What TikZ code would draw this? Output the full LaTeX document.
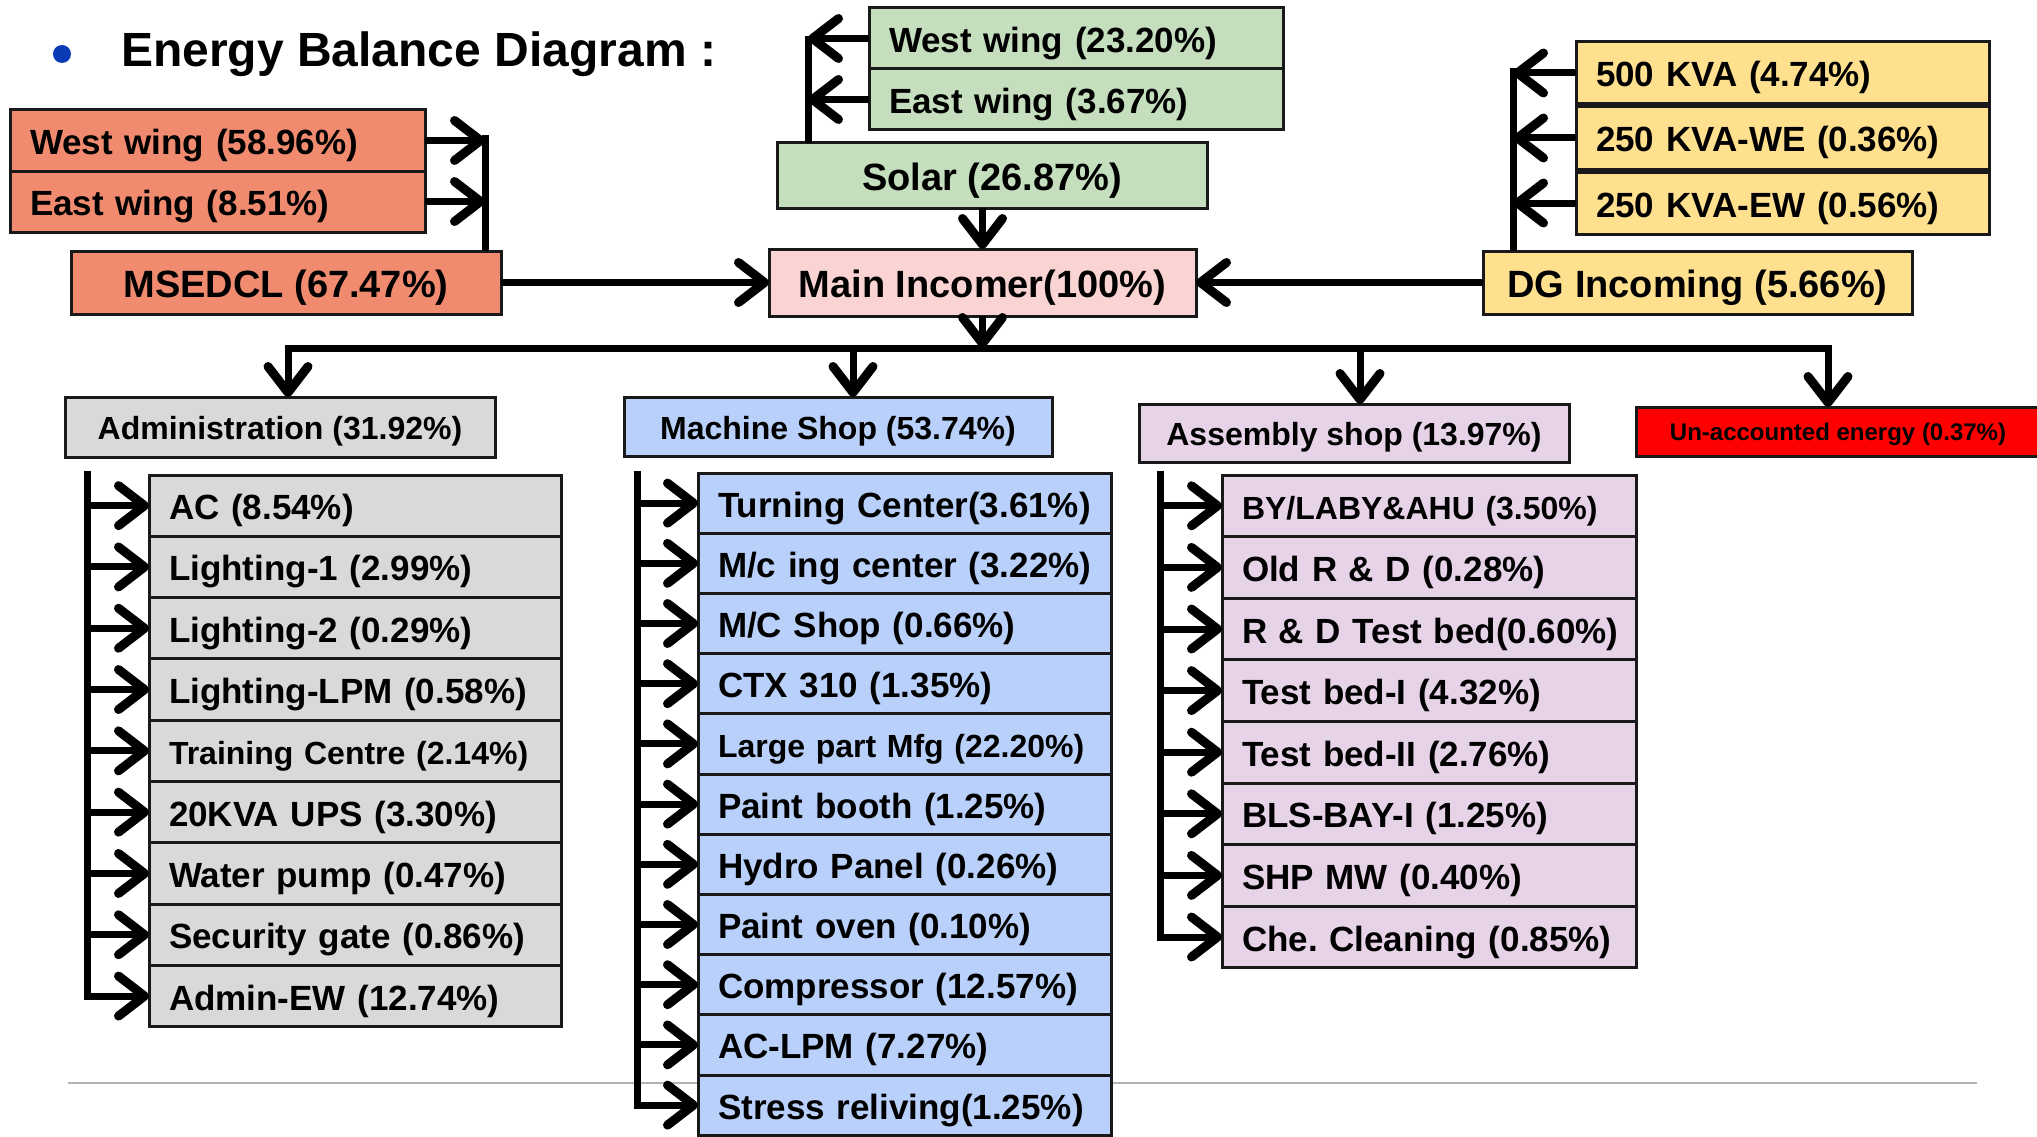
\documentclass[tikz,border=0pt]{standalone}
\usepackage{fontspec}
\setmainfont{Liberation Sans}
\usetikzlibrary{positioning,arrows.meta}
\frenchspacing
\definecolor{msred}{RGB}{240,139,112}
\definecolor{solgreen}{RGB}{196,222,190}
\definecolor{mainpink}{RGB}{250,211,211}
\definecolor{dgyellow}{RGB}{255,224,143}
\definecolor{admgray}{RGB}{217,217,217}
\definecolor{msblue}{RGB}{185,208,250}
\definecolor{aslav}{RGB}{231,211,232}
\definecolor{bulletblue}{RGB}{10,60,180}
\newcommand{\ebtitle}{\fontsize{48}{56}\selectfont\bfseries}
\newcommand{\ebmain}{\fontsize{38}{44}\selectfont\bfseries}
\newcommand{\ebsub}{\fontsize{35}{40}\selectfont\bfseries}
\newcommand{\ebsubsm}{\fontsize{32}{38}\selectfont\bfseries}
\newcommand{\ebhead}{\fontsize{32}{38}\selectfont\bfseries}
\newcommand{\ebsmall}{\fontsize{24}{28}\selectfont\bfseries}
\tikzstyle{ebox}=[rectangle, draw=black!90, line width=3pt, outer sep=0pt, inner sep=0pt, text=black]
\tikzstyle{mbox}=[ebox, font=\ebmain, text centered, text height=32pt, text depth=2pt]
\tikzstyle{hbox}=[ebox, font=\ebhead, text centered, text height=27pt, text depth=2pt]
\tikzstyle{tbox}=[ebox, font=\ebsub, align=left, inner xsep=20pt, text width=374pt, minimum height=61pt,
                  text height=30pt, text depth=2pt,
                  execute at begin node=\hbox\bgroup, execute at end node=\egroup]
\tikzstyle{sbox}=[tbox, text width=372pt, minimum height=61.3pt]
\tikzstyle{pline}=[-, line width=7pt]
\tikzstyle{parrow}=[pline, -{Straight Barb[length=26pt,width=40pt,line width=9pt,round]}]
\begin{document}
\begin{tikzpicture}[x=1pt, y=1pt]
\useasboundingbox (0,0) rectangle (2037,-1137);
\draw[gray!60, line width=1.5pt] (68,-1083) -- (1977,-1083);

% title
\node (BULLET) [circle, fill=bulletblue, minimum size=18pt, inner sep=0pt] at (62,-54) {};
\node (TITLE) [anchor=base west, font=\ebtitle, inner sep=0pt] at (121,-67) {Energy Balance Diagram :};

% MSEDCL side
\node (WWR) [tbox, fill=msred, text width=375pt, anchor=north west] at (10,-110) {West wing (58.96\%)};
\node (EWR) [tbox, fill=msred, text width=375pt, below=0pt of WWR] {East wing (8.51\%)};
\node (MSEDCL) [mbox, fill=msred, minimum width=430pt, minimum height=63pt] at (286,-282.5) {MSEDCL (67.47\%)};
\coordinate (REDBUS) at (485,-135);
 \draw[pline] (REDBUS) -- (REDBUS |- MSEDCL.north);
 \draw[parrow] (WWR.east) -- (WWR.east -| REDBUS);
 \draw[parrow] (EWR.east) -- (EWR.east -| REDBUS);

% solar side
\node (WWG) [tbox, fill=solgreen, anchor=north west] at (869,-8) {West wing (23.20\%)};
\node (EWG) [tbox, fill=solgreen, below=0pt of WWG] {East wing (3.67\%)};
\node (SOLAR) [mbox, fill=solgreen, minimum width=430pt, minimum height=65pt] at (992,-175.5) {Solar (26.87\%)};
\coordinate (GRNBUS) at (808,-36);
 \draw[pline] (GRNBUS) -- (GRNBUS |- SOLAR.north);
 \draw[parrow] (WWG.west) -- (WWG.west -| GRNBUS);
 \draw[parrow] (EWG.west) -- (EWG.west -| GRNBUS);

% main incomer
\node (MAIN) [mbox, fill=mainpink, minimum width=427pt, minimum height=67pt] at (982.5,-282.5) {Main Incomer(100\%)};
 \draw[parrow] (MSEDCL.east) -- (MAIN.west);
 \draw[parrow] (SOLAR.south -| MAIN.north) -- (MAIN.north);

% DG side
\node (KVA500) [tbox, fill=dgyellow, text width=373pt, minimum height=62pt, anchor=north west] at (1576,-42) {500 KVA (4.74\%)};
\node (KVAWE) [tbox, fill=dgyellow, text width=373pt, minimum height=62pt, below=3pt of KVA500] {250 KVA-WE (0.36\%)};
\node (KVAEW) [tbox, fill=dgyellow, text width=373pt, minimum height=62pt, below=3pt of KVAWE] {250 KVA-EW (0.56\%)};
\node (DG) [mbox, fill=dgyellow, minimum width=429pt, minimum height=63pt] at (1697.5,-282.5) {DG Incoming (5.66\%)};
\coordinate (DGBUS) at (1513,-68);
 \draw[pline] (DGBUS) -- (DGBUS |- DG.north);
 \draw[parrow] (KVA500.west) -- (KVA500.west -| DGBUS);
 \draw[parrow] (KVAWE.west) -- (KVAWE.west -| DGBUS);
 \draw[parrow] (KVAEW.west) -- (KVAEW.west -| DGBUS);
 \draw[parrow] (DG.west) -- (MAIN.east);

% loads
\node (ADM) [hbox, fill=admgray, minimum width=430pt, minimum height=60pt] at (280,-427) {Administration (31.92\%)};
\node (MACH) [hbox, fill=msblue, minimum width=428pt, minimum height=59pt] at (838,-426.5) {Machine Shop (53.74\%)};
\node (ASM) [hbox, fill=aslav, minimum width=430pt, minimum height=58pt] at (1354,-433) {Assembly shop (13.97\%)};
\node (UNACC) [ebox, font=\ebsmall, fill=red, minimum width=404pt, minimum height=49pt,
               text height=20pt, text depth=1.5pt] at (1838,-431.5) {Un-accounted energy (0.37\%)};
\coordinate (DBUS) at ([yshift=-32pt]MAIN.south);
 \draw[parrow] (MAIN.south) -- (DBUS);
 \draw[parrow] (DBUS) -| ([xshift=8pt]ADM.north);
 \draw[parrow] (DBUS) -| ([xshift=-10pt]UNACC.north);
 \draw[parrow] ([xshift=15pt]MACH.north |- DBUS) -- ([xshift=15pt]MACH.north);
 \draw[parrow] ([xshift=6pt]ASM.north |- DBUS) -- ([xshift=6pt]ASM.north);

% administration
\node (ADMAC) [sbox, fill=admgray, anchor=north west] at (149,-475) {AC (8.54\%)};
\node (ADMLONE) [sbox, fill=admgray, below=0pt of ADMAC] {Lighting-1 (2.99\%)};
\node (ADMLTWO) [sbox, fill=admgray, below=0pt of ADMLONE] {Lighting-2 (0.29\%)};
\node (ADMLPM) [sbox, fill=admgray, below=0pt of ADMLTWO] {Lighting-LPM (0.58\%)};
\node (ADMTRN) [sbox, fill=admgray, font=\ebsubsm, below=0pt of ADMLPM] {Training Centre (2.14\%)};
\node (ADMUPS) [sbox, fill=admgray, below=0pt of ADMTRN] {20KVA UPS (3.30\%)};
\node (ADMWP) [sbox, fill=admgray, below=0pt of ADMUPS] {Water pump (0.47\%)};
\node (ADMSG) [sbox, fill=admgray, below=0pt of ADMWP] {Security gate (0.86\%)};
\node (ADMEW) [sbox, fill=admgray, below=0pt of ADMSG] {Admin-EW (12.74\%)};
\coordinate (ADMBUS) at (87,-471);
 \draw[parrow] (ADMBUS) |- (ADMEW.west);
 \draw[parrow] (ADMAC.west -| ADMBUS) -- (ADMAC.west);
 \draw[parrow] (ADMLONE.west -| ADMBUS) -- (ADMLONE.west);
 \draw[parrow] (ADMLTWO.west -| ADMBUS) -- (ADMLTWO.west);
 \draw[parrow] (ADMLPM.west -| ADMBUS) -- (ADMLPM.west);
 \draw[parrow] (ADMTRN.west -| ADMBUS) -- (ADMTRN.west);
 \draw[parrow] (ADMUPS.west -| ADMBUS) -- (ADMUPS.west);
 \draw[parrow] (ADMWP.west -| ADMBUS) -- (ADMWP.west);
 \draw[parrow] (ADMSG.west -| ADMBUS) -- (ADMSG.west);

% machine shop
\node (MSTC) [sbox, fill=msblue, text width=373pt, minimum height=60.2pt, anchor=north west] at (698,-473) {Turning Center(3.61\%)};
\node (MSMC) [sbox, fill=msblue, text width=373pt, minimum height=60.2pt, below=0pt of MSTC] {M/c ing center (3.22\%)};
\node (MSSHOP) [sbox, fill=msblue, text width=373pt, minimum height=60.2pt, below=0pt of MSMC] {M/C Shop (0.66\%)};
\node (MSCTX) [sbox, fill=msblue, text width=373pt, minimum height=60.2pt, below=0pt of MSSHOP] {CTX 310 (1.35\%)};
\node (MSLPM) [sbox, fill=msblue, text width=373pt, minimum height=60.2pt, font=\ebsubsm, below=0pt of MSCTX] {Large part Mfg (22.20\%)};
\node (MSPB) [sbox, fill=msblue, text width=373pt, minimum height=60.2pt, below=0pt of MSLPM] {Paint booth (1.25\%)};
\node (MSHP) [sbox, fill=msblue, text width=373pt, minimum height=60.2pt, below=0pt of MSPB] {Hydro Panel (0.26\%)};
\node (MSPO) [sbox, fill=msblue, text width=373pt, minimum height=60.2pt, below=0pt of MSHP] {Paint oven (0.10\%)};
\node (MSCOMP) [sbox, fill=msblue, text width=373pt, minimum height=60.2pt, below=0pt of MSPO] {Compressor (12.57\%)};
\node (MSACL) [sbox, fill=msblue, text width=373pt, minimum height=60.2pt, below=0pt of MSCOMP] {AC-LPM (7.27\%)};
\node (MSSR) [sbox, fill=msblue, text width=373pt, minimum height=60.2pt, below=0pt of MSACL] {Stress reliving(1.25\%)};
\coordinate (MSBUS) at (637,-471);
 \draw[parrow] (MSBUS) |- (MSSR.west);
 \draw[parrow] (MSTC.west -| MSBUS) -- (MSTC.west);
 \draw[parrow] (MSMC.west -| MSBUS) -- (MSMC.west);
 \draw[parrow] (MSSHOP.west -| MSBUS) -- (MSSHOP.west);
 \draw[parrow] (MSCTX.west -| MSBUS) -- (MSCTX.west);
 \draw[parrow] (MSLPM.west -| MSBUS) -- (MSLPM.west);
 \draw[parrow] (MSPB.west -| MSBUS) -- (MSPB.west);
 \draw[parrow] (MSHP.west -| MSBUS) -- (MSHP.west);
 \draw[parrow] (MSPO.west -| MSBUS) -- (MSPO.west);
 \draw[parrow] (MSCOMP.west -| MSBUS) -- (MSCOMP.west);
 \draw[parrow] (MSACL.west -| MSBUS) -- (MSACL.west);

% assembly shop
\node (ASBY) [sbox, fill=aslav, text width=374pt, minimum height=61.6pt, font=\ebsubsm, anchor=north west] at (1222,-475) {BY/LABY\&AHU (3.50\%)};
\node (ASOLD) [sbox, fill=aslav, text width=374pt, minimum height=61.6pt, below=0pt of ASBY] {Old R \& D (0.28\%)};
\node (ASRD) [sbox, fill=aslav, text width=374pt, minimum height=61.6pt, below=0pt of ASOLD] {R \& D Test bed(0.60\%)};
\node (ASTBI) [sbox, fill=aslav, text width=374pt, minimum height=61.6pt, below=0pt of ASRD] {Test bed-I (4.32\%)};
\node (ASTBII) [sbox, fill=aslav, text width=374pt, minimum height=61.6pt, below=0pt of ASTBI] {Test bed-II (2.76\%)};
\node (ASBLS) [sbox, fill=aslav, text width=374pt, minimum height=61.6pt, below=0pt of ASTBII] {BLS-BAY-I (1.25\%)};
\node (ASSHP) [sbox, fill=aslav, text width=374pt, minimum height=61.6pt, below=0pt of ASBLS] {SHP MW (0.40\%)};
\node (ASCHE) [sbox, fill=aslav, text width=374pt, minimum height=61.6pt, below=0pt of ASSHP] {Che. Cleaning (0.85\%)};
\coordinate (ASBUS) at (1160,-471);
 \draw[parrow] (ASBUS) |- (ASCHE.west);
 \draw[parrow] (ASBY.west -| ASBUS) -- (ASBY.west);
 \draw[parrow] (ASOLD.west -| ASBUS) -- (ASOLD.west);
 \draw[parrow] (ASRD.west -| ASBUS) -- (ASRD.west);
 \draw[parrow] (ASTBI.west -| ASBUS) -- (ASTBI.west);
 \draw[parrow] (ASTBII.west -| ASBUS) -- (ASTBII.west);
 \draw[parrow] (ASBLS.west -| ASBUS) -- (ASBLS.west);
 \draw[parrow] (ASSHP.west -| ASBUS) -- (ASSHP.west);

\end{tikzpicture}
\end{document}
